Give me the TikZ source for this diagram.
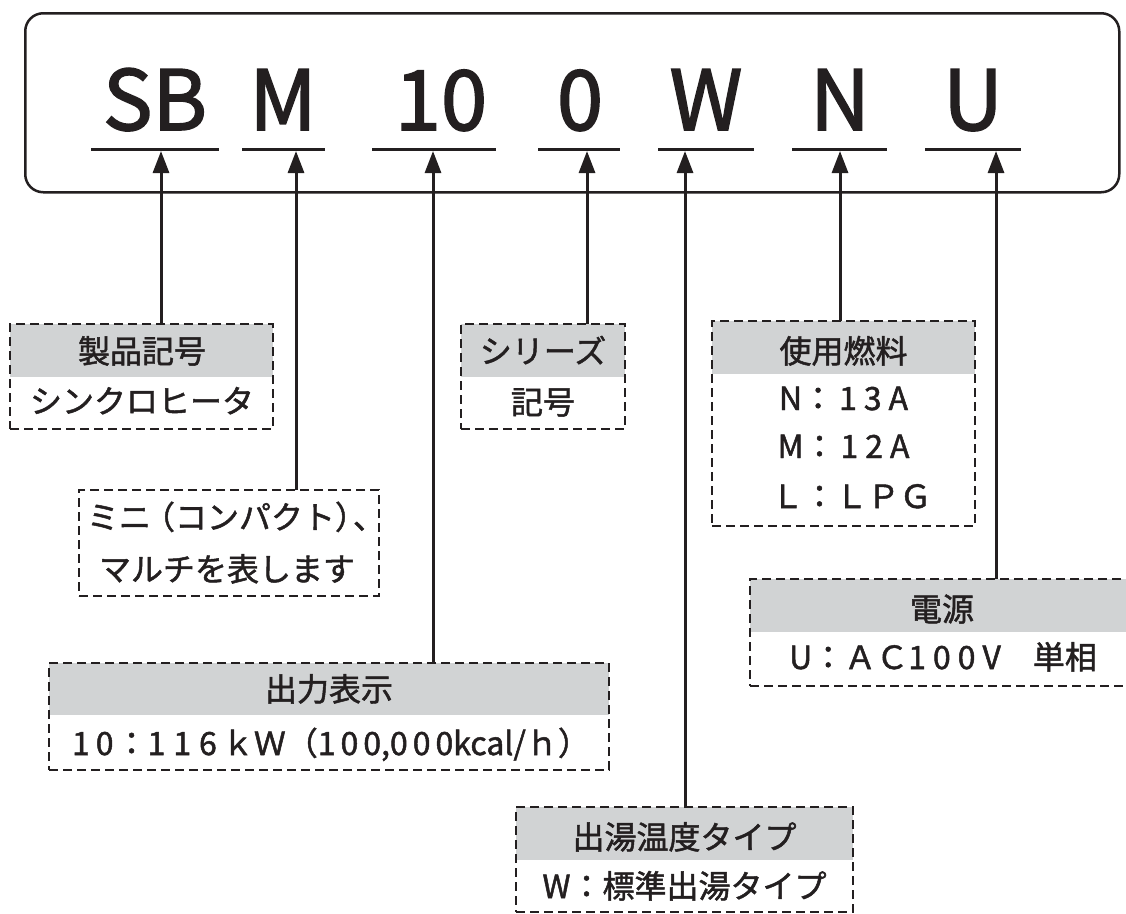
\documentclass[tikz,border=0pt]{standalone}
\usepackage{fontspec}
\setmainfont{Noto Sans CJK JP}
\newfontfamily\codefont[FakeBold=2]{Noto Sans CJK JP}
\newfontfamily\lblfont[FakeBold=1.5]{Noto Sans CJK JP}
\newcommand\ks{\kern6pt}
\usetikzlibrary{arrows.meta}
\definecolor{ink}{HTML}{231F20}
\definecolor{hdr}{HTML}{D1D3D4}
\begin{document}
\begin{tikzpicture}[x=1pt,y=-1pt,
  code/.style={font=\codefont\fontsize{83}{83}\selectfont, text=ink, inner sep=0pt, anchor=base},
  lbl/.style={font=\lblfont\fontsize{32}{32}\selectfont, text=ink, inner sep=0pt, anchor=base},
  dbox/.style={draw=ink, line width=2.5pt, dash pattern=on 9pt off 5pt, inner sep=0pt, outer sep=0pt, anchor=north west},
  hdrband/.style={fill=hdr, draw=none, inner sep=0pt, outer sep=0pt, anchor=north west, minimum height=53pt},
  uline/.style={draw=ink, line width=3pt},
  arr/.style={draw=ink, line width=3pt, -{Triangle[length=22pt,width=16pt]}},
  frame/.style={draw=ink, line width=2.5pt, rounded corners=18pt}]
\useasboundingbox (0,0) rectangle (1126,913);
\clip (0,0) rectangle (1126,913);

% outer frame
\node[frame, inner sep=0pt, anchor=north west, minimum width=1094pt, minimum height=179pt] (frm) at (24,12) {};

% code letters
\node[code] (cSB) at (155,130) {SB};
\node[code] (cM)  at (283,130) {M};
\node[code] (c10) at (441,130) {10};
\node[code] (c0)  at (580,130) {0};
\node[code] (cW)  at (706,130) {W};
\node[code] (cN)  at (840,130) {N};
\node[code] (cU)  at (973,130) {U};

% underlines
\coordinate (uSBa) at (91,149.5);  \coordinate (uSBb) at (219,149.5);
\coordinate (uMa)  at (242,149.5); \coordinate (uMb)  at (325,149.5);
\coordinate (u10a) at (372,149.5); \coordinate (u10b) at (496,149.5);
\coordinate (u0a)  at (538,149.5); \coordinate (u0b)  at (620,149.5);
\coordinate (uWa)  at (658,149.5); \coordinate (uWb)  at (754,149.5);
\coordinate (uNa)  at (792,149.5); \coordinate (uNb)  at (887,149.5);
\coordinate (uUa)  at (925,149.5); \coordinate (uUb)  at (1021,149.5);
\foreach \u in {SB,M,10,0,W,N,U} {\draw[uline] (u\u a) -- (u\u b);}

% arrow targets
\coordinate (tSB) at (161,151);
\coordinate (tM)  at (296,151);
\coordinate (t10) at (433,151);
\coordinate (t0)  at (587,151);
\coordinate (tW)  at (685,151);
\coordinate (tN)  at (840,151);
\coordinate (tU)  at (996,151);

% header bands
\node[hdrband, minimum width=263pt] (hA) at (10,324) {};
\node[hdrband, minimum width=560pt, minimum height=52pt] (hC) at (49,663) {};
\node[hdrband, minimum width=164pt] (hD) at (461,324) {};
\node[hdrband, minimum width=337pt] (hE) at (516,807) {};
\node[hdrband, minimum width=263pt] (hF) at (712,321) {};
\node[hdrband, minimum width=384pt] (hG) at (750,579) {};

% dashed boxes
\node[dbox, minimum width=263pt, minimum height=105pt] (bA) at (10,324) {};
\node[dbox, minimum width=300pt, minimum height=106pt] (bB) at (79,490) {};
\node[dbox, minimum width=560pt, minimum height=107pt] (bC) at (49,663) {};
\node[dbox, minimum width=164pt, minimum height=105pt] (bD) at (461,324) {};
\node[dbox, minimum width=337pt, minimum height=105pt] (bE) at (516,807) {};
\node[dbox, minimum width=263pt, minimum height=205pt] (bF) at (712,321) {};
\node[dbox, minimum width=384pt, minimum height=107pt] (bG) at (750,579) {};

% labels
\node[lbl] (lA1) at (142,363) {製品記号};
\node[lbl] (lA2) at (142,413) {シンクロヒータ};
\node[lbl] (lB1) at (236,529) {ミニ\kern-8pt（コンパクト）\kern-14pt、};
\node[lbl] (lB2) at (227,581) {マルチを表します};
\node[lbl] (lC1) at (329,701) {出力表示};
\node[lbl] (lC2) at (331,755) {1\ks0\kern2pt：1\kern8pt 1\kern8pt 6\kern5pt ｋＷ（1\kern5pt 0\kern5pt 0,0\kern5pt 0\kern5pt 0kcal/ｈ）};
\node[lbl] (lD1) at (543,363) {シリーズ};
\node[lbl] (lD2) at (543,414) {記号};
\node[lbl] (lE1) at (684.5,849) {出湯温度タイプ};
\node[lbl] (lE2) at (684.5,898) {W：標準出湯タイプ};
\node[lbl] (lF1) at (843.5,363) {使用燃料};
\node[lbl] (lF2) at (843.5,410) {N：\kern5pt 1\kern7pt 3\kern7pt A};
\node[lbl] (lF3) at (843.5,458) {M：\kern5pt 1\kern7pt 2\kern7pt A};
\node[lbl] (lF4) at (851.5,508) {Ｌ：ＬＰＧ};
\node[lbl] (lG1) at (942,621) {電源};
\node[lbl] (lG2) at (943,669) {U：ＡＣ1\kern7pt 0\kern7pt 0\kern7pt V　単相};

% arrows
\draw[arr] (bA.north -| tSB) -- (tSB);
\draw[arr] (bB.north -| tM)  -- (tM);
\draw[arr] (bC.north -| t10) -- (t10);
\draw[arr] (bD.north -| t0)  -- (t0);
\draw[arr] (bE.north -| tW)  -- (tW);
\draw[arr] (bF.north -| tN)  -- (tN);
\draw[arr] (bG.north -| tU)  -- (tU);
\end{tikzpicture}
\end{document}
